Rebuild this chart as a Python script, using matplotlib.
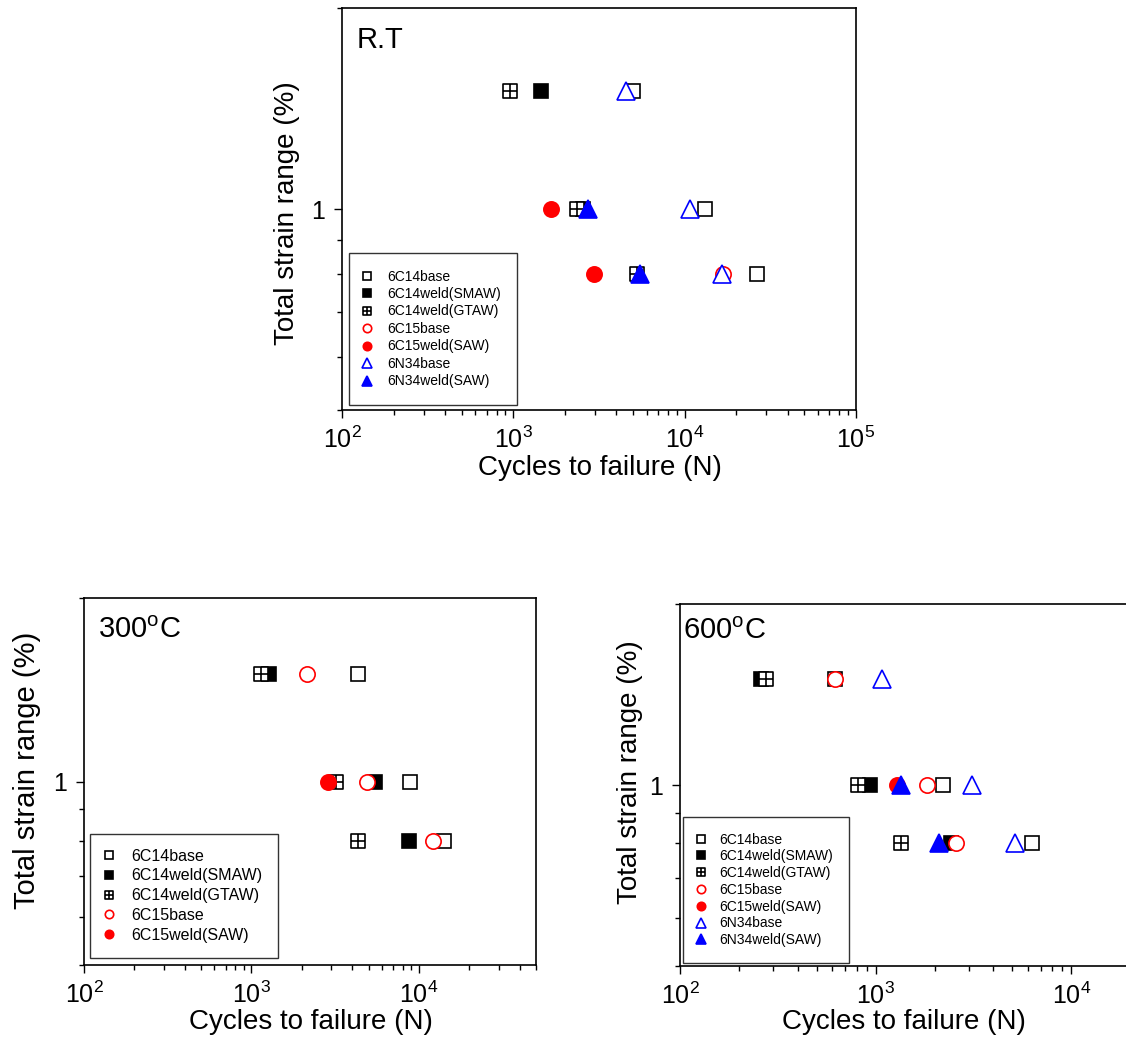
"""
Low-cycle fatigue results: total strain range vs cycles to failure
at room temperature, 300 C and 600 C.
"""

import numpy as np
import matplotlib
matplotlib.use('Agg')
import matplotlib.pyplot as plt
from matplotlib.path import Path
from matplotlib.ticker import LogLocator, NullFormatter, FuncFormatter

plt.rcParams['font.family'] = ['Liberation Sans', 'DejaVu Sans']
plt.rcParams['mathtext.fontset'] = 'custom'
plt.rcParams['mathtext.rm'] = 'Liberation Sans'

# ---- data (cycles to failure N, total strain range %) ----
labels = ['6C14base', '6C14weld(SMAW)', '6C14weld(GTAW)', '6C15base',
          '6C15weld(SAW)', '6N34base', '6N34weld(SAW)']

# R.T
rt_6c14_base_n = [5000, 13100, 26600]
rt_6c14_base_s = [1.5, 1.0, 0.8]
rt_6c14_smaw_n = [1450, 2540]
rt_6c14_smaw_s = [1.5, 1.0]
rt_6c14_gtaw_n = [960, 2360, 5300]
rt_6c14_gtaw_s = [1.5, 1.0, 0.8]
rt_6c15_base_n = [16700]
rt_6c15_base_s = [0.8]
rt_6c15_saw_n = [1670, 2960]
rt_6c15_saw_s = [1.0, 0.8]
rt_6n34_base_n = [4520, 10800, 16600]
rt_6n34_base_s = [1.5, 1.0, 0.8]
rt_6n34_saw_n = [2720, 5480]
rt_6n34_saw_s = [1.0, 0.8]

# 300 C
t300_6c14_base_n = [4320, 8790, 14080]
t300_6c14_base_s = [1.5, 1.0, 0.8]
t300_6c14_smaw_n = [1275, 5490, 8670]
t300_6c14_smaw_s = [1.5, 1.0, 0.8]
t300_6c14_gtaw_n = [1135, 3180, 4320]
t300_6c14_gtaw_s = [1.5, 1.0, 0.8]
t300_6c15_base_n = [2140, 4890, 12200]
t300_6c15_base_s = [1.5, 1.0, 0.8]
t300_6c15_saw_n = [2860]
t300_6c15_saw_s = [1.0]

# 600 C
t600_6c14_base_n = [622, 2220, 6310]
t600_6c14_base_s = [1.5, 1.0, 0.8]
t600_6c14_smaw_n = [258, 939, 2430]
t600_6c14_smaw_s = [1.5, 1.0, 0.8]
t600_6c14_gtaw_n = [276, 812, 1350]
t600_6c14_gtaw_s = [1.5, 1.0, 0.8]
t600_6c15_base_n = [622, 1835, 2580]
t600_6c15_base_s = [1.5, 1.0, 0.8]
t600_6c15_saw_n = [1290]
t600_6c15_saw_s = [1.0]
t600_6n34_base_n = [1080, 3090, 5130]
t600_6n34_base_s = [1.5, 1.0, 0.8]
t600_6n34_saw_n = [1340, 2107]
t600_6n34_saw_s = [1.0, 0.8]

# square with a cross inside (GTAW marker)
gtaw_marker = Path(
    [(-1, -1), (1, -1), (1, 1), (-1, 1), (-1, -1), (0, -1), (0, 1), (-1, 0), (1, 0)],
    [Path.MOVETO, Path.LINETO, Path.LINETO, Path.LINETO, Path.CLOSEPOLY,
     Path.MOVETO, Path.LINETO, Path.MOVETO, Path.LINETO])

# marker, size, face colour, edge colour for each series
styles = [
    ('s', 10, 'white', 'black'),
    ('s', 10, 'black', 'black'),
    (gtaw_marker, 10, 'white', 'black'),
    ('o', 11, 'white', 'red'),
    ('o', 11, 'red', 'red'),
    ('^', 13, 'white', 'blue'),
    ('^', 13, 'blue', 'blue'),
]


def draw_panel(ax, series, xlim, tag, tag_pos, leg_anchor, leg_kw):
    for (n, s), lab, (mk, ms, fc, ec) in zip(series, labels, styles):
        if n is None:
            continue
        ax.plot(n, s, linestyle='none', marker=mk, ms=ms, mfc=fc, mec=ec,
                mew=1.2, label=lab)

    ax.set_xscale('log')
    ax.set_yscale('log')
    ax.set_xlim(*xlim)
    ax.set_ylim(0.5, 2.0)
    ax.xaxis.set_major_locator(LogLocator(base=10))
    ax.xaxis.set_minor_locator(LogLocator(base=10, subs=np.arange(2, 10)))
    ax.xaxis.set_minor_formatter(NullFormatter())
    ax.yaxis.set_major_locator(LogLocator(base=10))
    ax.yaxis.set_minor_locator(LogLocator(base=10, subs=np.arange(2, 10)))
    ax.yaxis.set_major_formatter(FuncFormatter(lambda v, p: f'{v:g}'))
    ax.yaxis.set_minor_formatter(NullFormatter())
    ax.tick_params(which='both', direction='out', top=False, right=False,
                   labelsize=18, width=1.0)
    ax.tick_params(which='major', length=6, pad=6)
    ax.tick_params(which='minor', length=3.5)
    for sp in ax.spines.values():
        sp.set_linewidth(1.2)

    ax.text(tag_pos[0], tag_pos[1], tag, transform=ax.transAxes,
            fontsize=21, va='top', ha='left')

    leg = ax.legend(loc='lower left', bbox_to_anchor=leg_anchor,
                    borderaxespad=0, markerscale=0.55, frameon=True,
                    fancybox=False, edgecolor='black', **leg_kw)
    leg.get_frame().set_linewidth(1.0)
    return ax


fig = plt.figure(figsize=(11.26, 10.42), dpi=100)

# ---- R.T ----
ax1 = fig.add_axes([0.3037, 0.6065, 0.4565, 0.3858])
rt_series = [
    (rt_6c14_base_n, rt_6c14_base_s),
    (rt_6c14_smaw_n, rt_6c14_smaw_s),
    (rt_6c14_gtaw_n, rt_6c14_gtaw_s),
    (rt_6c15_base_n, rt_6c15_base_s),
    (rt_6c15_saw_n, rt_6c15_saw_s),
    (rt_6n34_base_n, rt_6n34_base_s),
    (rt_6n34_saw_n, rt_6n34_saw_s),
]
draw_panel(ax1, rt_series, (1e2, 1e5), 'R.T', (0.029, 0.955),
           leg_anchor=(0.0136, 0.0124),
           leg_kw=dict(fontsize=10, borderpad=1.2, handlelength=0.2,
                       handletextpad=1.33, labelspacing=0.25))
ax1.set_xlabel('Cycles to failure (N)', fontsize=20)
ax1.set_ylabel('Total strain range (%)', fontsize=20)
ax1.xaxis.set_label_coords(0.502, -0.145)
ax1.yaxis.set_label_coords(-0.107, 0.49)
ax1.xaxis.label.set_va('center')
ax1.yaxis.label.set_va('center')

# ---- 300 C ----
ax2 = fig.add_axes([0.0746, 0.0739, 0.4014, 0.3522])
t300_series = [
    (t300_6c14_base_n, t300_6c14_base_s),
    (t300_6c14_smaw_n, t300_6c14_smaw_s),
    (t300_6c14_gtaw_n, t300_6c14_gtaw_s),
    (t300_6c15_base_n, t300_6c15_base_s),
    (t300_6c15_saw_n, t300_6c15_saw_s),
    (None, None),
    (None, None),
]
draw_panel(ax2, t300_series, (1e2, 5e4), r'300$^\mathregular{o}$C', (0.031, 0.95),
           leg_anchor=(0.013, 0.019),
           leg_kw=dict(fontsize=11.5, borderpad=0.95, handlelength=0.5,
                       handletextpad=1.15, labelspacing=0.3))
ax2.set_xlabel('Cycles to failure (N)', fontsize=20)
ax2.set_ylabel('Total strain range (%)', fontsize=21)
ax2.xaxis.set_label_coords(0.502, -0.155)
ax2.yaxis.set_label_coords(-0.126, 0.53)
ax2.xaxis.label.set_va('center')
ax2.yaxis.label.set_va('center')

# ---- 600 C (runs off the right edge of the figure, as in the source) ----
ax3 = fig.add_axes([0.6039, 0.0729, 0.469, 0.3474])
t600_series = [
    (t600_6c14_base_n, t600_6c14_base_s),
    (t600_6c14_smaw_n, t600_6c14_smaw_s),
    (t600_6c14_gtaw_n, t600_6c14_gtaw_s),
    (t600_6c15_base_n, t600_6c15_base_s),
    (t600_6c15_saw_n, t600_6c15_saw_s),
    (t600_6n34_base_n, t600_6n34_base_s),
    (t600_6n34_saw_n, t600_6n34_saw_s),
]
draw_panel(ax3, t600_series, (1e2, 5e4), r'600$^\mathregular{o}$C', (0.006, 0.965),
           leg_anchor=(0.006, 0.008),
           leg_kw=dict(fontsize=10, borderpad=1.15, handlelength=0.25,
                       handletextpad=1.2, labelspacing=0.2))
ax3.set_xlabel('Cycles to failure (N)', fontsize=20)
ax3.set_ylabel('Total strain range (%)', fontsize=20)
ax3.xaxis.set_label_coords(0.424, -0.155)
ax3.yaxis.set_label_coords(-0.095, 0.536)
ax3.xaxis.label.set_va('center')
ax3.yaxis.label.set_va('center')

fig.savefig('out.png', dpi=100)
